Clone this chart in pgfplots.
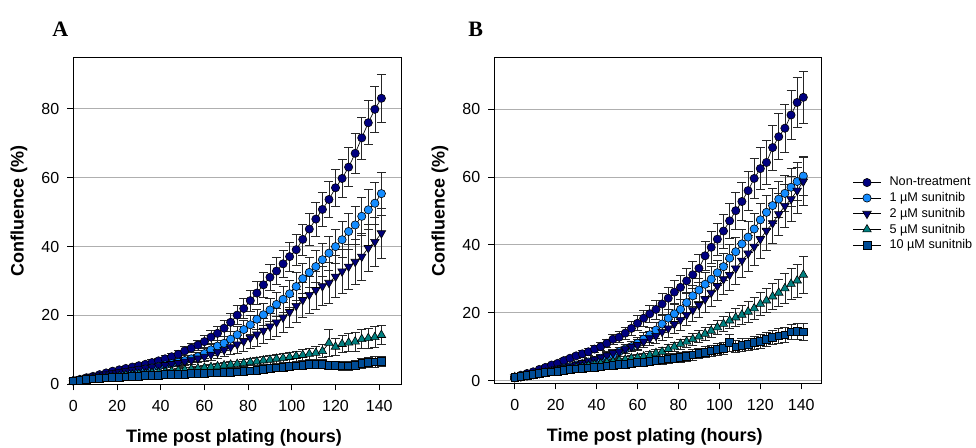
\documentclass[border=0pt]{standalone}
\usepackage{pgfplots}
\pgfplotsset{compat=1.18}
\usepackage{pgfplotstable}
\usepackage{fontspec}
\setmainfont{Liberation Sans}
\newfontfamily\panelfont{Liberation Serif}

\definecolor{ntcol}{RGB}{0,0,128}
\definecolor{s1col}{RGB}{20,140,255}
\definecolor{s2col}{RGB}{0,0,120}
\definecolor{s5col}{RGB}{0,128,128}
\definecolor{s10col}{RGB}{0,76,150}
\definecolor{gridgray}{RGB}{175,175,175}

% Panel A: confluence (%) with SD, every 3 h
\pgfplotstableread{
t   nt   ntE  sa   saE  sb   sbE  sc   scE  sd   sdE
0   1.0  0.2  1.0  0.2  1.0  0.2  1.0  0.1  1.0  0.1
3   1.4  0.3  1.3  0.2  1.5  0.2  1.2  0.1  1.2  0.1
6   1.9  0.3  1.6  0.3  1.9  0.3  1.4  0.2  1.4  0.2
9   2.3  0.4  1.9  0.3  2.3  0.3  1.6  0.2  1.6  0.2
12  2.8  0.4  2.2  0.3  2.6  0.3  1.8  0.2  1.7  0.2
15  3.3  0.5  2.5  0.4  2.9  0.4  2.0  0.2  1.9  0.2
18  3.8  0.5  2.8  0.4  3.2  0.4  2.2  0.3  2.0  0.3
21  4.2  0.5  3.1  0.4  3.5  0.4  2.4  0.3  2.1  0.3
24  4.6  0.6  3.5  0.5  3.8  0.5  2.6  0.3  2.2  0.3
27  5.0  0.6  3.8  0.5  4.1  0.5  2.8  0.3  2.3  0.3
30  5.4  0.7  4.1  0.5  4.4  0.5  3.0  0.4  2.4  0.3
33  5.8  0.7  4.5  0.6  4.7  0.6  3.1  0.4  2.5  0.4
36  6.3  0.8  4.8  0.6  5.0  0.6  3.3  0.4  2.6  0.4
39  6.8  0.8  5.2  0.7  5.3  0.7  3.4  0.4  2.7  0.4
42  7.4  0.9  5.6  0.7  5.6  0.7  3.6  0.5  2.8  0.4
45  8.0  1.0  6.0  0.8  5.9  0.8  3.8  0.5  2.8  0.5
48  8.7  1.1  6.4  0.9  6.2  0.9  4.0  0.5  2.9  0.5
51  9.7  1.2  6.9  1.0  6.6  1.0  4.2  0.6  3.0  0.5
54  10.5 1.3  7.4  1.1  7.0  1.1  4.4  0.6  3.1  0.5
57  11.4 1.5  8.0  1.2  7.5  1.2  4.6  0.6  3.1  0.6
60  12.4 1.7  8.9  1.4  8.0  1.4  4.8  0.7  3.2  0.6
63  13.7 1.9  10.0 1.6  8.6  1.6  5.0  0.7  3.3  0.6
66  14.8 2.1  11.1 1.8  9.3  1.8  5.2  0.8  3.3  0.6
69  16.3 2.3  11.9 2.0  10.0 2.0  5.5  0.8  3.4  0.7
72  18.0 2.5  13.1 2.2  10.8 2.2  5.7  0.9  3.5  0.7
75  20.1 2.7  14.4 2.4  11.6 2.5  5.9  0.9  3.6  0.7
78  22.0 2.9  15.9 2.6  12.5 2.8  6.1  1.0  3.7  0.8
81  24.3 3.1  17.3 2.8  13.5 3.1  6.4  1.0  3.9  0.8
84  26.5 3.3  18.9 3.0  14.5 3.4  6.6  1.1  4.1  0.8
87  28.9 3.5  20.2 3.2  15.6 3.6  6.9  1.1  4.3  0.9
90  31.1 3.7  21.6 3.4  16.8 3.8  7.1  1.2  4.6  0.9
93  32.9 3.9  23.2 3.6  18.0 4.0  7.4  1.2  4.8  0.9
96  35.0 4.0  24.7 3.8  19.4 4.3  7.6  1.3  5.0  1.0
99  37.1 4.2  26.3 4.0  21.0 4.5  7.9  1.4  5.3  1.0
102 39.1 4.4  28.4 4.1  22.8 4.8  8.2  1.5  5.4  1.0
105 42.1 4.5  30.7 4.3  24.5 5.0  8.5  1.6  5.6  1.1
108 45.1 4.7  32.5 4.4  26.0 5.3  8.8  1.7  5.8  1.1
111 48.0 4.9  34.2 4.6  27.4 5.5  9.1  1.8  5.9  1.1
114 50.8 5.0  36.2 4.7  28.5 5.7  9.6  1.9  5.9  1.2
117 53.7 5.2  38.1 4.9  29.5 5.9  12.0 4.0  5.6  1.2
120 57.1 5.3  40.0 5.0  31.3 6.1  10.9 2.5  5.5  1.2
123 59.8 5.5  42.0 5.2  32.8 6.3  11.7 2.5  5.4  1.3
126 63.1 5.7  44.4 5.3  34.2 6.5  12.1 2.6  5.4  1.3
129 67.1 5.9  46.3 5.5  35.6 6.6  12.4 2.7  5.6  1.3
132 71.6 6.1  48.8 5.6  37.1 6.8  13.1 2.8  6.0  1.4
135 76.0 6.4  50.7 5.8  39.6 6.9  13.4 2.9  6.3  1.4
138 79.9 6.7  52.6 6.0  41.4 7.0  13.7 3.0  6.5  1.5
141 83.1 7.0  55.4 6.3  43.9 7.2  14.3 2.8  6.6  1.5
}\tabA

% Panel B: confluence (%) with SD, every 3 h
\pgfplotstableread{
t   nt   ntE  sa   saE  sb   sbE  sc   scE  sd   sdE
0   1.0  0.2  1.0  0.2  1.0  0.2  1.0  0.2  1.0  0.2
3   1.6  0.3  1.2  0.2  1.2  0.2  1.2  0.2  1.3  0.2
6   2.1  0.3  1.5  0.3  1.5  0.3  1.5  0.2  1.6  0.3
9   2.6  0.4  1.8  0.3  1.9  0.3  1.7  0.3  1.9  0.3
12  3.3  0.4  2.2  0.3  2.2  0.3  2.0  0.3  2.2  0.3
15  3.9  0.5  2.5  0.4  2.6  0.4  2.3  0.3  2.4  0.4
18  4.6  0.5  2.9  0.4  3.0  0.4  2.6  0.4  2.6  0.4
21  5.1  0.6  3.3  0.5  3.4  0.5  2.9  0.4  2.8  0.4
24  5.9  0.6  3.7  0.5  3.8  0.5  3.2  0.4  3.0  0.5
27  6.6  0.7  4.1  0.6  4.2  0.6  3.5  0.5  3.3  0.5
30  7.3  0.8  4.6  0.6  4.7  0.6  3.8  0.5  3.5  0.5
33  7.9  0.9  5.0  0.7  5.2  0.7  4.1  0.5  3.6  0.6
36  8.5  1.0  5.5  0.8  5.7  0.8  4.4  0.6  3.8  0.6
39  9.3  1.1  5.9  0.9  6.2  0.9  4.7  0.6  3.9  0.7
42  10.0 1.2  6.6  1.0  6.8  1.0  5.0  0.7  4.1  0.7
45  11.0 1.3  7.1  1.1  7.4  1.1  5.3  0.7  4.4  0.8
48  12.2 1.4  7.6  1.2  8.1  1.2  5.6  0.8  4.6  0.8
51  12.8 1.6  8.5  1.3  8.5  1.3  5.9  0.8  4.8  0.9
54  14.0 1.8  9.3  1.4  9.3  1.4  6.2  0.9  4.9  0.9
57  15.4 2.0  10.0 1.5  10.0 1.5  6.6  0.9  5.1  1.0
60  16.9 2.2  11.0 1.7  10.5 1.6  6.8  1.0  5.3  1.0
63  18.4 2.4  12.2 1.9  11.5 1.8  7.1  1.0  5.4  1.1
66  19.7 2.6  13.5 2.1  12.5 2.0  7.5  1.1  5.6  1.1
69  21.0 2.8  14.9 2.3  13.2 2.2  8.1  1.1  5.9  1.2
72  22.6 3.0  16.7 2.5  14.4 2.4  8.5  1.2  6.1  1.2
75  24.3 3.2  18.4 2.6  15.4 2.6  9.3  1.3  6.4  1.3
78  26.1 3.4  19.7 2.8  16.7 2.8  10.0 1.4  6.6  1.3
81  27.5 3.6  21.0 2.9  17.9 3.0  10.8 1.5  6.9  1.4
84  29.4 3.8  23.0 3.1  19.4 3.2  11.5 1.6  7.1  1.4
87  31.2 4.0  25.0 3.2  20.8 3.4  12.2 1.7  7.6  1.5
90  33.1 4.2  26.7 3.4  22.3 3.6  13.0 1.8  8.1  1.5
93  36.8 4.4  28.4 3.5  24.0 3.8  13.8 1.9  8.4  1.6
96  39.3 4.6  29.9 3.7  25.9 4.0  14.7 2.0  8.8  1.6
99  41.7 4.8  31.8 3.8  27.9 4.2  15.7 2.1  9.3  1.7
102 44.1 5.0  33.6 4.0  29.9 4.4  16.7 2.2  9.5  1.7
105 47.1 5.2  36.1 4.1  31.2 4.6  17.7 2.4  11.2 2.5
108 50.1 5.4  38.0 4.3  33.1 4.8  18.6 2.6  10.0 1.8
111 52.8 5.6  40.3 4.4  35.4 5.0  19.4 2.8  10.5 1.9
114 56.0 5.8  42.3 4.6  37.5 5.2  20.3 3.0  10.7 1.9
117 59.6 6.0  44.7 4.7  39.5 5.4  21.3 3.2  11.2 2.0
120 62.5 6.2  47.4 4.9  41.7 5.6  22.6 3.4  11.5 2.0
123 64.3 6.4  49.6 5.0  44.2 5.8  23.6 3.6  12.2 2.1
126 68.7 6.6  51.6 5.2  46.4 6.0  24.8 3.8  12.8 2.1
129 71.9 6.8  53.5 5.3  49.1 6.2  25.9 4.0  13.2 2.2
132 74.4 7.0  55.2 5.4  51.5 6.4  27.2 4.3  13.5 2.2
135 78.3 7.2  57.0 5.5  53.5 6.6  28.5 4.6  14.4 2.3
138 82.0 7.4  58.7 5.6  56.0 6.8  29.5 4.9  14.6 2.3
141 83.5 7.6  60.3 5.7  58.7 7.0  31.2 5.5  14.4 2.4
}\tabB

\pgfplotsset{
  panel/.style={
    scale only axis, clip=false,
    xmax=150,
    xtick={0,20,...,140}, ytick={0,20,...,80},
    ymajorgrids, major grid style={gridgray, line width=0.75pt},
    tick align=outside, major tick length=4.5pt,
    xtick pos=bottom, ytick pos=left,
    axis line style={black, line width=0.75pt},
    tick style={black, line width=0.75pt},
    ticklabel style={font=\fontsize{12}{14}\selectfont},
    /pgf/number format/assume math mode=true,
    xticklabel style={anchor=base, yshift=-16pt},
    yticklabel style={anchor=east, xshift=-2.5pt},
    xlabel={Time post plating (hours)},
    ylabel={Confluence (\%)},
    label style={font=\fontsize{13.5}{16}\selectfont\bfseries},
    xlabel style={at={(axis description cs:0.49,-0.163)}, anchor=center},
    ylabel style={at={(axis description cs:-0.166,0.53)}, anchor=center},
  },
  eb/.style={error bars/.cd, y dir=both, y explicit,
    error bar style={black!85, line width=0.5pt},
    error mark options={rotate=90, mark size=3.4pt, black!85, line width=0.5pt}},
  sNT/.style={black, line width=0.5pt, mark=*, mark size=3.1pt,
    mark options={solid, fill=ntcol, draw=black, line width=0.45pt}},
  sA/.style={black, line width=0.5pt, mark=*, mark size=3.1pt,
    mark options={solid, fill=s1col, draw=black, line width=0.45pt}},
  sB/.style={black, line width=0.5pt, mark=triangle*, mark size=3.7pt,
    mark options={solid, rotate=180, fill=s2col, draw=black, line width=0.45pt}},
  sC/.style={black, line width=0.5pt, mark=triangle*, mark size=3.7pt,
    mark options={solid, fill=s5col, draw=black, line width=0.45pt}},
  sD/.style={black, line width=0.5pt, mark=square*, mark size=2.9pt,
    mark options={solid, fill=s10col, draw=black, line width=0.45pt}},
}

\begin{document}
\begin{tikzpicture}
\useasboundingbox (0,0) rectangle (732pt,-336pt);

\node[anchor=base west, inner sep=0pt] at (39pt,-27.75pt)
  {\fontsize{16.5}{18}\selectfont\panelfont\bfseries A};
\node[anchor=base west, inner sep=0pt] at (351pt,-27.75pt)
  {\fontsize{16.5}{18}\selectfont\panelfont\bfseries B};

% Panel A
\begin{axis}[panel, at={(55pt,-288.2pt)}, anchor=south west,
  width=245.8pt, height=245.2pt, xmin=0, ymin=0, ymax=95]
  \addplot[sNT, eb] table[x=t, y=nt, y error=ntE] {\tabA};
  \addplot[sA,  eb] table[x=t, y=sa, y error=saE] {\tabA};
  \addplot[sB,  eb] table[x=t, y=sb, y error=sbE] {\tabA};
  \addplot[sC,  eb] table[x=t, y=sc, y error=scE] {\tabA};
  \addplot[sD,  eb] table[x=t, y=sd, y error=sdE] {\tabA};
\end{axis}

% Panel B with the shared legend
\begin{axis}[panel, at={(370.7pt,-287.5pt)}, anchor=south west,
  width=245.6pt, height=244.5pt, xmin=-10, ymin=-0.8, ymax=95.3,
  legend style={at={(rel axis cs:1,1)}, anchor=north west,
    xshift=20pt, yshift=-86.5pt, draw=none, fill=none,
    font=\fontsize{9.5}{11}\selectfont, row sep=1pt,
    nodes={inner sep=1.2pt}},
  legend cell align=left,
  legend image code/.code={\draw[#1, mark repeat=2, mark phase=2]
    plot coordinates {(0pt,0pt) (10.5pt,0pt) (21pt,0pt)};
    \path (26pt,0pt);}]
  \addplot[sNT, eb] table[x=t, y=nt, y error=ntE] {\tabB};
  \addplot[sA,  eb] table[x=t, y=sa, y error=saE] {\tabB};
  \addplot[sB,  eb] table[x=t, y=sb, y error=sbE] {\tabB};
  \addplot[sC,  eb] table[x=t, y=sc, y error=scE] {\tabB};
  \addplot[sD,  eb] table[x=t, y=sd, y error=sdE] {\tabB};
  \legend{Non-treatment, 1 µM sunitnib, 2 µM sunitnib, 5 µM sunitnib, 10 µM sunitnib}
\end{axis}
\end{tikzpicture}
\end{document}
